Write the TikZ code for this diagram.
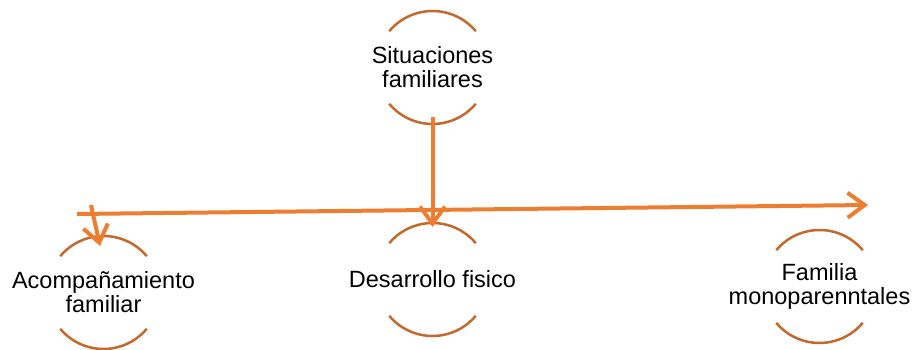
\documentclass[tikz,border=0pt]{standalone}
\usepackage{fontspec}
\setmainfont{Liberation Sans}
\usetikzlibrary{arrows.meta}
\definecolor{arcc}{RGB}{196,105,45}
\definecolor{arrc}{RGB}{237,125,49}
\begin{document}
\begin{tikzpicture}[x=1pt,y=1pt,
  bubble/.style={inner sep=0pt,outer sep=0pt,align=center,font=\fontsize{23.5}{24}\selectfont},
  arcline/.style={draw=arcc,line width=2.5pt},
  conn/.style={draw=arrc,line width=4pt,-{Straight Barb[length=17pt,width=25pt]}}]
\useasboundingbox (0,0) rectangle (916,350);
\node[bubble] (top) at (432.5,282.5) {Situaciones\\familiares};
\node[bubble] (acomp) at (103.5,57.5) {Acompañamiento\\familiar};
\node[bubble] (desa) at (432.5,70.5) {Desarrollo fisico};
\node[bubble] (fam) at (819.5,63.5) {Familia\\monoparenntales};
\foreach \n in {top,acomp,desa,fam}{
  \draw[arcline] ([shift={(40:56.5pt)}]\n.center) arc[start angle=40,end angle=140,radius=56.5pt];
  \draw[arcline] ([shift={(220:56.5pt)}]\n.center) arc[start angle=220,end angle=320,radius=56.5pt];
}
\coordinate (hL) at (77,136);
\coordinate (hR) at (868,145);
\coordinate (lS) at (91,145);
\draw[conn] (hL) -- (hR);
\draw[conn] ([yshift=-49.5pt]top.center) -- ([yshift=52.5pt]desa.center);
\draw[conn] (lS) -- ([xshift=-3.5pt,yshift=46.5pt]acomp.center);
\end{tikzpicture}
\end{document}
